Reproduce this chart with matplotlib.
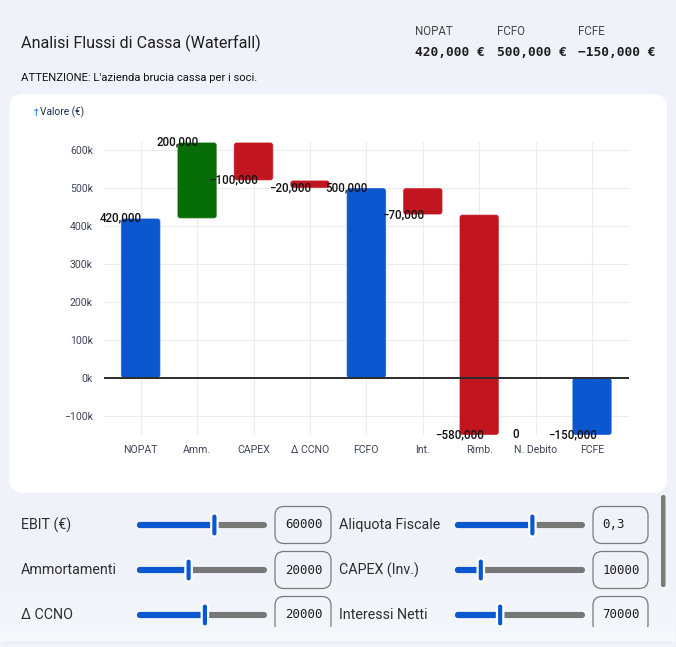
import matplotlib
matplotlib.use("Agg")
import matplotlib.pyplot as plt
from matplotlib.patches import FancyBboxPatch
from matplotlib.colors import to_rgb
import numpy as np

# ---------------- data ----------------
categories = ["NOPAT", "Amm.", "CAPEX", "Δ CCNO", "FCFO", "Int.", "Rimb.", "N. Debito", "FCFE"]
values = [420000, 200000, -100000, -20000, 500000, -70000, -580000, 0, -150000]
kinds = ["total", "delta", "delta", "delta", "total", "delta", "delta", "delta", "total"]
y_ticks = [-100000, 0, 100000, 200000, 300000, 400000, 500000, 600000]

kpi_labels = ["NOPAT", "FCFO", "FCFE"]
kpi_values = [420000, 500000, -150000]

ctrl_labels = ["EBIT (€)", "Aliquota Fiscale", "Ammortamenti", "CAPEX (Inv.)", "Δ CCNO", "Interessi Netti"]
ctrl_values = [60000, 0.3, 20000, 10000, 20000, 70000]
ctrl_texts = ["60000", "0,3", "20000", "10000", "20000", "70000"]
ctrl_min = [0, 0, 0, 0, 0, 0]
ctrl_max = [100000, 0.5, 50000, 50000, 38000, 200000]

# ---------------- style ----------------
BG = "#eff3f9"
BLUE = "#0b57d0"
GREEN = "#076d06"
RED = "#c1161f"
FONT = ["Roboto", "DejaVu Sans"]
plt.rcParams["font.family"] = FONT

W, H = 676, 647
fig = plt.figure(figsize=(W / 100, H / 100), dpi=100, facecolor=BG)

# UI layer in pixel coordinates
ui = fig.add_axes([0, 0, 1, 1], zorder=0)
ui.set_xlim(0, W)
ui.set_ylim(H, 0)
ui.axis("off")
ui.set_facecolor(BG)


def vgrad(y0, y1, c0, c1, z):
    a = np.array(to_rgb(c0))
    b = np.array(to_rgb(c1))
    t = np.linspace(0, 1, 64)[:, None]
    img = (a * (1 - t) + b * t)[:, None, :]
    ui.imshow(img, extent=[0, 675, y1, y0], aspect="auto", zorder=z, interpolation="bilinear")


# controls panel background gradient
vgrad(560, 627.5, BG, "#f3f6fb", 0.5)
ui.set_xlim(0, W)
ui.set_ylim(H, 0)

# white card
ui.add_patch(FancyBboxPatch((9.5, 94), 657.5, 399, boxstyle="round,pad=0,rounding_size=14",
                            facecolor="white", edgecolor="none", zorder=1))

# header texts
ui.text(21, 43, "Analisi Flussi di Cassa (Waterfall)", fontsize=11.6, color="#1f1f1f",
        va="center", ha="left")
ui.text(21, 78, "ATTENZIONE: L'azienda brucia cassa per i soci.", fontsize=8.1, color="#111111",
        va="center", ha="left")
kpi_x = [415, 497, 578]
for x, lab, val in zip(kpi_x, kpi_labels, kpi_values):
    ui.text(x, 31.5, lab, fontsize=8.3, color="#444746", va="center", ha="left")
    s = f"{val:,} €".replace("-", "−")
    ui.text(x, 52.5, s, fontsize=9.3, color="#1f1f1f", va="center", ha="left",
            family=["DejaVu Sans Mono"], weight="bold")

ui.text(32, 112.5, "↑", fontsize=7.5, color="#1a73e8", va="center", ha="left",
        family=["DejaVu Sans"])
ui.text(40, 112.5, "Valore (€)", fontsize=7.3, color="#1b2f52", va="center", ha="left")

# controls
rows_y = [525, 570, 615]
cols = [dict(label_x=21, t0=139.5, t1=263.5, b0=275, b1=331),
        dict(label_x=339, t0=457.5, t1=581.5, b0=593, b1=648)]
for k, (lab, v, txt, lo, hi) in enumerate(zip(ctrl_labels, ctrl_values, ctrl_texts, ctrl_min, ctrl_max)):
    c = cols[k % 2]
    y = rows_y[k // 2]
    ui.text(c["label_x"], y, lab, fontsize=10.3, color="#2d2d2d", va="center", ha="left", zorder=3)
    frac = (v - lo) / (hi - lo)
    tx = c["t0"] - 2.5 + frac * (c["t1"] - c["t0"] + 5)
    ui.plot([c["t0"], c["t1"]], [y, y], color="#777777", lw=4.4, solid_capstyle="round", zorder=2)
    ui.plot([c["t0"], tx], [y, y], color=BLUE, lw=4.4, solid_capstyle="round", zorder=2)
    ui.add_patch(FancyBboxPatch((tx - 3.2, y - 11.5), 6.4, 23,
                                boxstyle="round,pad=0,rounding_size=3",
                                facecolor=BLUE, edgecolor="white", lw=1.6, zorder=3))
    ui.add_patch(FancyBboxPatch((c["b0"], y - 18.5), c["b1"] - c["b0"], 37,
                                boxstyle="round,pad=0,rounding_size=9",
                                facecolor="none", edgecolor="#7a7a7a", lw=0.9, zorder=2))
    if "," in txt:
        ui.text(c["b0"] + 9, y, txt, fontsize=9, family=["DejaVu Sans Mono"], color="#1f1f1f",
                va="center", ha="left", zorder=3)
    else:
        ui.text(c["b1"] - 8, y, txt, fontsize=9, family=["DejaVu Sans Mono"], color="#1f1f1f",
                va="center", ha="right", zorder=3)

# clipped strip at bottom of controls panel
vgrad(627, 642, "#f3f6fb", "#f7f9fc", 5)
ui.plot([4, 671], [642.3, 642.3], color="#e4e8ee", lw=0.8, zorder=6)
ui.set_xlim(0, W)
ui.set_ylim(H, 0)
# scrollbar
ui.add_patch(FancyBboxPatch((661, 495), 4.5, 92, boxstyle="round,pad=0,rounding_size=2",
                            facecolor="#7b7b7b", edgecolor="none", zorder=6))

# ---------------- waterfall chart ----------------
ax = fig.add_axes([104 / W, 1 - 435 / H, (628.7 - 104) / W, (435 - 142.4) / H], zorder=2)
ax.patch.set_visible(False)
ax.set_xlim(-0.65, len(categories) - 0.35)
ax.set_ylim(-150000, 620000)

bottoms, heights, ends, colors = [], [], [], []
running = 0
for v, kd in zip(values, kinds):
    if kd == "total":
        b, t = 0, v
        running = v
        col = BLUE
    else:
        b, t = running, running + v
        running = t
        col = GREEN if v > 0 else RED
    bottoms.append(min(b, t))
    heights.append(abs(t - b))
    ends.append(t)
    colors.append(col)

xs = np.arange(len(categories))
bw = 0.70
bars = ax.bar(xs, heights, bottom=bottoms, width=bw, color=colors, zorder=3)
rx = 0.05
ry = 7900
for rect, col in zip(bars, colors):
    rect.set_visible(False)
    if rect.get_height() > 0:
        ax.add_patch(FancyBboxPatch(rect.get_xy(), rect.get_width(), rect.get_height(),
                                    boxstyle=f"round,pad=0,rounding_size={rx}",
                                    mutation_aspect=ry / rx, facecolor=col,
                                    edgecolor=(1, 1, 1, 0.35), lw=0.8, zorder=3))

for x, v, e in zip(xs, values, ends):
    ax.text(x - bw / 2, e, f"{v:,}".replace("-", "−"), ha="center", va="center",
            fontsize=8.3, color="#111111", weight="medium", zorder=5)

ax.axhline(0, color="#2b2b2b", lw=1.4, zorder=4)
ax.set_yticks(y_ticks)
ax.set_yticklabels([f"{int(t / 1000)}k".replace("-", "−") for t in y_ticks])
ax.set_xticks(xs)
ax.set_xticklabels(categories)
ax.tick_params(axis="both", length=0, labelsize=7.6, labelcolor="#3d4657")
ax.tick_params(axis="y", pad=8)
ax.tick_params(axis="x", pad=7)
for yt in y_ticks:
    ax.axhline(yt, color="#ececec", lw=0.8, zorder=1)
for x in xs:
    ax.axvline(x, color="#ececec", lw=0.8, zorder=1)
for s in ax.spines.values():
    s.set_visible(False)

fig.savefig("out.png", dpi=100, facecolor=BG)
